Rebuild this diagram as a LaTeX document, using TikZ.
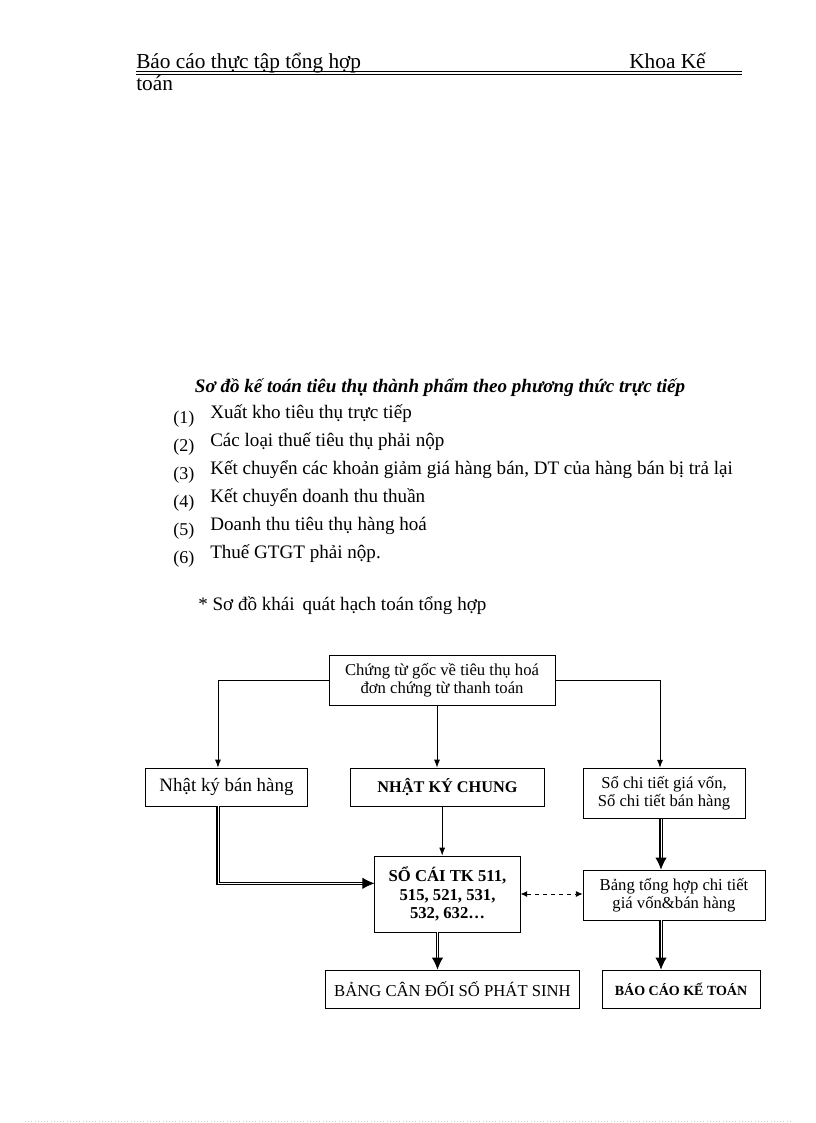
\documentclass[tikz,border=0pt]{standalone}
\usepackage{fontspec}
\setmainfont{Liberation Serif}
\usetikzlibrary{arrows.meta,decorations.markings}

\begin{document}
\begin{tikzpicture}[x=0.75pt,y=-0.75pt,
    box/.style={draw, line width=0.6pt, align=center, inner sep=1pt},
    txt/.style={font=\fontsize{12.5}{13.5}\selectfont},
    bigtxt/.style={font=\fontsize{14.3}{16}\selectfont},
    arr/.style={line width=0.6pt, -{Latex[length=6pt,width=4.5pt]}},
    dbl/.style={double, double distance=0.6pt, line width=1pt, shorten >=8pt,
        postaction={decorate, decoration={markings, mark=at position 1 with
            {\pgfsetinnerlinewidth{0pt}\arrow[line width=0.6pt]{Latex[length=9pt,width=8.5pt]}}}}},
    dsh/.style={line width=0.6pt, dashed, {Latex[length=5pt,width=4.5pt]}-{Latex[length=5pt,width=4.5pt]}}]
    \useasboundingbox (0,0) rectangle (816,1123);

    % Header
    \node[anchor=base west, inner sep=0pt, font=\fontsize{16}{18}\selectfont] (hdl) at (136,69) {Báo cáo thực tập tổng hợp};
    \node[anchor=base west, inner sep=0pt, font=\fontsize{16}{18}\selectfont] (hdr) at (629,69) {Khoa Kế};
    \draw[line width=1.4pt] (136,71.5) -- (742,71.5);
    \draw[line width=0.5pt] (136,74.4) -- (742,74.4);
    \node[anchor=base west, inner sep=0pt, font=\fontsize{16}{18}\selectfont] (hdt) at (136,91) {toán};

    % Title and legend
    \node[anchor=base, inner sep=0pt, font=\fontsize{14.3}{16}\selectfont\bfseries\itshape] (title) at (440,392) {Sơ đồ kế toán tiêu thụ thành phẩm theo phương thức trực tiếp};
    \foreach \i/\t in {1/Xuất kho tiêu thụ trực tiếp,
                       2/Các loại thuế tiêu thụ phải nộp,
                       3/{Kết chuyển các khoản giảm giá hàng bán, DT của hàng bán bị trả lại},
                       4/Kết chuyển doanh thu thuần,
                       5/Doanh thu tiêu thụ hàng hoá,
                       6/Thuế GTGT phải nộp.}{
        \node[anchor=base west, inner sep=0pt, font=\fontsize{13.5}{15}\selectfont] (num\i) at (173,{395+28*\i}) {(\i)};
        \node[anchor=base west, inner sep=0pt, bigtxt] (item\i) at (210,{390+28*\i}) {\t};
    }
    \node[anchor=base west, inner sep=0pt, bigtxt] (sub) at (198,610) {* Sơ đồ khái\, quát hạch toán tổng hợp};

    % Boxes
    \node[box, txt, minimum width=169.5pt, minimum height=37.5pt] (src) at (442,680) {Chứng từ gốc về tiêu thụ hoá\\đơn chứng từ thanh toán};
    \node[box, font=\fontsize{14.2}{16}\selectfont, minimum width=122pt, minimum height=28.5pt] (nkbh) at (226.5,787) {Nhật ký bán hàng};
    \node[box, font=\fontsize{12.2}{14}\selectfont\bfseries, minimum width=146pt, minimum height=28.5pt] (nkc) at (447.5,787) {NHẬT KÝ CHUNG};
    \node[box, txt, minimum width=121.5pt, minimum height=38pt] (sct) at (664,793.5) {Sổ chi tiết giá vốn,\\Sổ chi tiết bán hàng};
    \node[box, font=\fontsize{12.5}{14}\selectfont\bfseries, minimum width=109pt, minimum height=57pt] (socai) at (447.5,894) {SỔ CÁI TK 511,\\515, 521, 531,\\532, 632\dots};
    \node[box, txt, minimum width=136.5pt, minimum height=37.5pt] (bth) at (674,895) {Bảng tổng hợp chi tiết\\giá vốn\&bán hàng};
    \node[box, txt, minimum width=191pt, minimum height=28.5pt] (bcd) at (452.5,989) {BẢNG CÂN ĐỐI SỐ PHÁT SINH};
    \node[box, font=\fontsize{10.5}{12}\selectfont\bfseries, minimum width=118.5pt, minimum height=28.5pt] (bckt) at (681,989) {BÁO CÁO KẾ TOÁN};

    % Connectors
    \draw[arr] (src.west) -| ([xshift=-6.4pt]nkbh.north);
    \draw[arr] ([xshift=-3.75pt]src.south) -- ([xshift=-3.75pt]src.south |- nkc.north);
    \draw[arr] (src.east) -| ([xshift=-3pt]sct.north);
    \draw[dbl] ([xshift=-6.4pt]nkbh.south) |- ([yshift=8pt]socai.west);
    \draw[arr] ([xshift=-4pt]nkc.south) -- ([xshift=-4pt]nkc.south |- socai.north);
    \draw[dbl] ([xshift=-2.25pt]sct.south) -- ([xshift=-2.25pt]sct.south |- bth.north);
    \draw[dsh] (socai.east) -- (socai.east -| bth.west);
    \draw[dbl] ([xshift=-7.5pt]socai.south) -- ([xshift=-7.5pt]socai.south |- bcd.north);
    \draw[dbl] ([xshift=-9.75pt]bth.south) -- ([xshift=-9.75pt]bth.south |- bckt.north);

    % Page edge
    \draw[gray!40, dotted, line width=0.4pt] (25,1121) -- (792,1121);
\end{tikzpicture}
\end{document}
